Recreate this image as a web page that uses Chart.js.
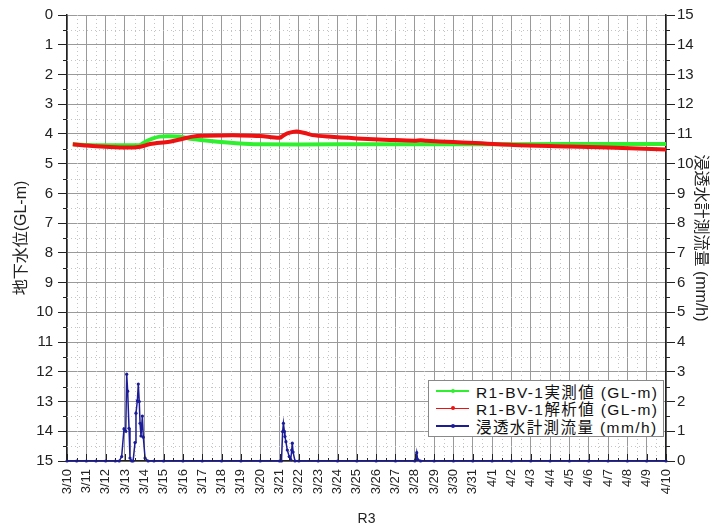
<!DOCTYPE html>
<html>
<head>
<meta charset="utf-8">
<script src="https://cdn.jsdelivr.net/npm/chart.js@4"></script>
<style>
  body { margin: 0; background: #fff; }
  #wrap { position: relative; width: 712px; height: 530px; }
  #legend {
    position: absolute; left: 428px; top: 380px; width: 236px; height: 57px;
    border: 1px solid #888; background: #fff; box-sizing: border-box;
    font-family: "Liberation Sans", "Noto Sans CJK JP", sans-serif; font-size: 15.5px; color: #111;
    letter-spacing: 1.4px; padding-top: 1px;
  }
  .row { display: flex; align-items: center; height: 17.5px; white-space: nowrap; }
  .swatch { position: relative; width: 33px; height: 1.5px; margin: 0 7px 0 7px; flex: none; }
  .swatch i { position: absolute; left: 14.5px; top: -1.5px; width: 4px; height: 4px; border-radius: 2px; }
</style>
</head>
<body>
<div id="wrap">
  <canvas id="c" width="712" height="530"></canvas>
  <div id="legend"></div>
</div>
<script>
// x values are days counted from 3/10 0:00
const DATE_LABELS = ["3/10","3/11","3/12","3/13","3/14","3/15","3/16","3/17","3/18","3/19","3/20",
  "3/21","3/22","3/23","3/24","3/25","3/26","3/27","3/28","3/29","3/30","3/31",
  "4/1","4/2","4/3","4/4","4/5","4/6","4/7","4/8","4/9","4/10"];

const SERIES_NAMES = ["R1-BV-1実測値 (GL-m)", "R1-BV-1解析値 (GL-m)", "浸透水計測流量 (mm/h)"];

// 実測値 (GL-m)
const measuredX = [0.3, 1, 2, 3, 3.5, 3.8, 4.05, 4.45, 4.8, 5.2, 5.8, 6.5, 7.3, 8.3, 9.2, 10, 14, 20, 26, 31];
const measuredY = [4.35, 4.37, 4.38, 4.38, 4.38, 4.37, 4.26, 4.15, 4.09, 4.08, 4.09, 4.17, 4.23, 4.29, 4.33, 4.35, 4.35, 4.35, 4.34, 4.34];

// 解析値 (GL-m)
const analysisX = [0.3, 1, 2, 3.1, 3.8, 4.3, 5.3, 6.0, 6.5, 7.0, 8, 9, 10, 11.0, 11.2, 11.4, 11.7, 11.9, 12.3, 12.7,
  13.5, 15, 16.7, 18.0, 18.3, 18.6, 20, 23.1, 26, 28, 31];
const analysisY = [4.35, 4.39, 4.43, 4.46, 4.43, 4.34, 4.26, 4.16, 4.09, 4.06, 4.05, 4.05, 4.07, 4.13, 4.05, 3.98,
  3.93, 3.92, 3.97, 4.04, 4.09, 4.15, 4.2, 4.23, 4.21, 4.23, 4.27, 4.37, 4.42, 4.46, 4.52];

// 浸透水計測流量 (mm/h)
const flowX = [0, 0.5, 1, 1.5, 2, 2.5, 2.7, 2.83, 2.95, 3.04, 3.09, 3.14, 3.21, 3.26, 3.35, 3.42, 3.52, 3.57,
  3.64, 3.69, 3.74, 3.78, 3.83, 3.90, 3.95, 4.04, 4.2, 4.5, 5, 6, 7, 8, 9, 10, 11, 11.1, 11.16, 11.2, 11.25,
  11.28, 11.33, 11.4, 11.5, 11.58, 11.63, 11.66, 11.7, 11.8, 12, 13, 14, 15, 16, 17, 18, 18.05, 18.1, 18.15,
  18.3, 19, 20, 21, 22, 23, 24, 25, 26, 27, 28, 29, 30, 31];
const flowY = [0, 0, 0, 0, 0, 0, 0, 0.15, 1.08, 1.0, 2.92, 2.35, 1.1, 0.1, 0, 0, 0.62, 1.61,
  2.02, 2.59, 2.0, 1.27, 0.84, 1.51, 0.8, 0.1, 0, 0, 0, 0, 0, 0, 0, 0, 0, 0, 0.99, 1.27, 1.0,
  0.82, 0.65, 0.37, 0.15, 0.05, 0.37, 0.6, 0.3, 0, 0, 0, 0, 0, 0, 0, 0, 0.05, 0.28, 0.05,
  0, 0, 0, 0, 0, 0, 0, 0, 0, 0, 0, 0, 0, 0];

const COLORS = ["#2ef02e", "#ee1111", "#1c1c96"];
const FONT = "'Liberation Sans', 'Noto Sans CJK JP', sans-serif";

function pairs(xs, ys) { return xs.map((x, i) => ({ x: x, y: ys[i] })); }

// dotted half-step grid plus the small axis ticks
const extras = {
  id: "extras",
  beforeDatasetsDraw(chart) {
    const { ctx, chartArea: a, scales } = chart;
    ctx.save();
    ctx.strokeStyle = "#c4c4c4";
    ctx.lineWidth = 1;
    ctx.setLineDash([1, 3]);
    ctx.beginPath();
    for (let v = 0.5; v < DATE_LABELS.length - 1; v += 1) {
      const px = Math.round(scales.x.getPixelForValue(v)) + 0.5;
      ctx.moveTo(px, a.top); ctx.lineTo(px, a.bottom);
    }
    for (let v = 0.5; v < 15; v += 1) {
      const py = Math.round(scales.y.getPixelForValue(v)) + 0.5;
      ctx.moveTo(a.left, py); ctx.lineTo(a.right, py);
    }
    ctx.stroke();
    ctx.restore();
  },
  afterDraw(chart) {
    const { ctx, chartArea: a, scales } = chart;
    ctx.save();
    ctx.strokeStyle = "#222";
    ctx.lineWidth = 1;
    ctx.beginPath();
    for (let v = 0; v <= DATE_LABELS.length - 1; v += 0.5) {
      const px = Math.round(scales.x.getPixelForValue(v)) + 0.5;
      const len = Number.isInteger(v) ? 7 : 3;
      ctx.moveTo(px, a.bottom); ctx.lineTo(px, a.bottom - len);
    }
    for (let v = 0.5; v < 15; v += 1) {
      const py = Math.round(scales.y.getPixelForValue(v)) + 0.5;
      ctx.moveTo(a.left, py); ctx.lineTo(a.left - 4, py);
      ctx.moveTo(a.right, py); ctx.lineTo(a.right + 4, py);
    }
    ctx.stroke();
    ctx.restore();
  }
};

new Chart(document.getElementById("c"), {
  type: "line",
  data: {
    datasets: [
      {
        label: SERIES_NAMES[2], data: pairs(flowX, flowY), yAxisID: "y1",
        borderColor: COLORS[2], backgroundColor: COLORS[2], borderWidth: 1.5,
        pointRadius: 1.6, pointBorderWidth: 0, clip: 4, tension: 0
      },
      {
        label: SERIES_NAMES[1], data: pairs(analysisX, analysisY), yAxisID: "y",
        borderColor: COLORS[1], backgroundColor: COLORS[1], borderWidth: 4,
        pointRadius: 0, tension: 0.3
      },
      {
        label: SERIES_NAMES[0], data: pairs(measuredX, measuredY), yAxisID: "y",
        borderColor: COLORS[0], backgroundColor: COLORS[0], borderWidth: 4,
        pointRadius: 0, tension: 0.3
      }
    ]
  },
  options: {
    responsive: false,
    animation: false,
    layout: { padding: { top: 15, left: 0, right: 0, bottom: 0 } },
    plugins: { legend: { display: false }, tooltip: { enabled: false } },
    scales: {
      x: {
        type: "linear", min: 0, max: DATE_LABELS.length - 1,
        afterFit(s) { s.height = 69; },
        grid: { color: "#9a9a9a", drawTicks: false },
        border: { color: "#222", width: 1.5 },
        ticks: {
          stepSize: 1, autoSkip: false, maxRotation: 90, minRotation: 90, padding: 8,
          color: "#222", font: { family: FONT, size: 13 },
          callback: v => DATE_LABELS[v]
        },
        title: { display: true, text: "R3", color: "#222", font: { family: FONT, size: 14 }, padding: { top: 0, bottom: 2 } }
      },
      y: {
        position: "left", reverse: true, min: 0, max: 15,
        afterFit(s) { s.width = 67; },
        grid: { color: "#9a9a9a", tickColor: "#222", tickLength: 9 },
        border: { color: "#222", width: 1.5 },
        ticks: { stepSize: 1, padding: 5, color: "#222", font: { family: FONT, size: 15 } },
        title: { display: true, text: "地下水位(GL-m)", color: "#222", font: { family: FONT, size: 16 }, padding: { top: 12, bottom: 0 } }
      },
      y1: {
        position: "right", min: 0, max: 15,
        afterFit(s) { s.width = 46; },
        grid: { drawOnChartArea: false, tickColor: "#222", tickLength: 9 },
        border: { color: "#222", width: 1.5 },
        ticks: { stepSize: 1, padding: 2, color: "#222", font: { family: FONT, size: 15 } },
        title: { display: true, text: "浸透水計測流量 (mm/h)", color: "#222", font: { family: FONT, size: 16 }, padding: { top: 2, bottom: 0 } }
      }
    }
  },
  plugins: [extras]
});

// legend box
const legend = document.getElementById("legend");
[0, 1, 2].forEach(i => {
  const row = document.createElement("div");
  row.className = "row";
  row.innerHTML = `<span class="swatch" style="background:${COLORS[i]}"><i style="background:${COLORS[i]}"></i></span><span>${SERIES_NAMES[i]}</span>`;
  legend.appendChild(row);
});
</script>
</body>
</html>
